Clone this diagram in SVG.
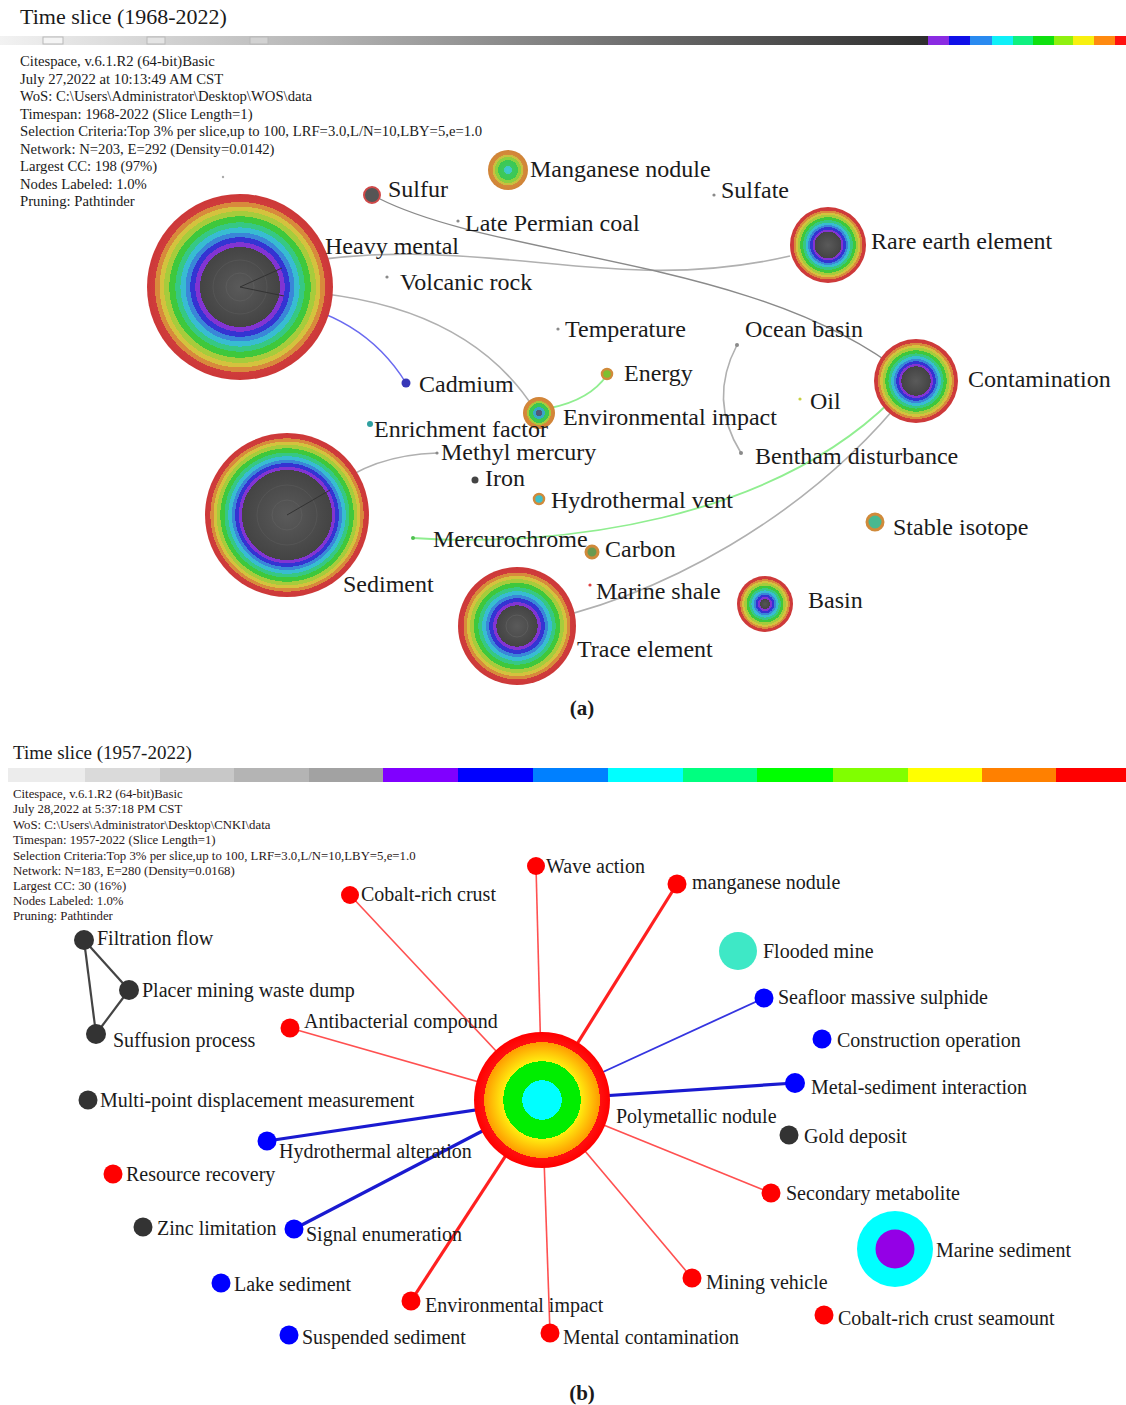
<svg xmlns="http://www.w3.org/2000/svg" width="1126" height="1405" viewBox="0 0 1126 1405">
<style>
text{font-family:"Liberation Serif","Times New Roman",serif;fill:#1a1a1a}
.lbl{font-size:24px}
.lb2{font-size:20px}
.info{font-size:14.7px}
.info2{font-size:12.8px;fill:#2a1818}
.ttl{font-size:22px}
.ttl2{font-size:19px}
.cap{font-size:21px;font-weight:bold;text-anchor:middle}
.eg{fill:none;stroke:#b0b0b0;stroke-width:1.6}
.egr{fill:none;stroke:#8a8a8a;stroke-width:1.4}
.elg{fill:none;stroke:#90ee90;stroke-width:1.8}
.ebl{fill:none;stroke:#6a6af0;stroke-width:1.4}
.rt{stroke:#ff5050;stroke-width:1.6}
.rT{stroke:#ff2020;stroke-width:3.2}
.bt{stroke:#3535e0;stroke-width:1.8}
.bT{stroke:#1a1ad0;stroke-width:3.2}
.kt{stroke:#444;stroke-width:2.2}
.red{fill:#ff0000}
.blu{fill:#0000ff}
.blk{fill:#333}
.dot{fill:#8a8a8a}
</style>
<defs>
<radialGradient id="rb1">
<stop offset="0" stop-color="#5a5a5a"/><stop offset="0.43" stop-color="#444"/>
<stop offset="0.43" stop-color="#8234d2"/><stop offset="0.48" stop-color="#8234d2"/>
<stop offset="0.48" stop-color="#3434d2"/><stop offset="0.535" stop-color="#3434d2"/>
<stop offset="0.535" stop-color="#3a86d8"/><stop offset="0.585" stop-color="#3a86d8"/>
<stop offset="0.585" stop-color="#38bcd2"/><stop offset="0.64" stop-color="#38bcd2"/>
<stop offset="0.64" stop-color="#36c884"/><stop offset="0.695" stop-color="#36c884"/>
<stop offset="0.695" stop-color="#3ec83c"/><stop offset="0.76" stop-color="#3ec83c"/>
<stop offset="0.76" stop-color="#a6cc3c"/><stop offset="0.816" stop-color="#a6cc3c"/>
<stop offset="0.816" stop-color="#d4c23e"/><stop offset="0.865" stop-color="#d4c23e"/>
<stop offset="0.865" stop-color="#d88a3c"/><stop offset="0.914" stop-color="#d88a3c"/>
<stop offset="0.914" stop-color="#d03c3c"/><stop offset="1" stop-color="#cc3838"/>
</radialGradient>
<radialGradient id="rb2">
<stop offset="0" stop-color="#5a5a5a"/><stop offset="0.55" stop-color="#444"/>
<stop offset="0.55" stop-color="#8234d2"/><stop offset="0.588" stop-color="#8234d2"/>
<stop offset="0.588" stop-color="#3434d2"/><stop offset="0.633" stop-color="#3434d2"/>
<stop offset="0.633" stop-color="#3a86d8"/><stop offset="0.671" stop-color="#3a86d8"/>
<stop offset="0.671" stop-color="#38bcd2"/><stop offset="0.716" stop-color="#38bcd2"/>
<stop offset="0.716" stop-color="#36c884"/><stop offset="0.761" stop-color="#36c884"/>
<stop offset="0.761" stop-color="#3ec83c"/><stop offset="0.813" stop-color="#3ec83c"/>
<stop offset="0.813" stop-color="#a6cc3c"/><stop offset="0.858" stop-color="#a6cc3c"/>
<stop offset="0.858" stop-color="#d4c23e"/><stop offset="0.896" stop-color="#d4c23e"/>
<stop offset="0.896" stop-color="#d88a3c"/><stop offset="0.934" stop-color="#d88a3c"/>
<stop offset="0.934" stop-color="#d03c3c"/><stop offset="1" stop-color="#cc3838"/>
</radialGradient>
<radialGradient id="rb3">
<stop offset="0" stop-color="#5a5a5a"/><stop offset="0.35" stop-color="#444"/>
<stop offset="0.35" stop-color="#8234d2"/><stop offset="0.405" stop-color="#8234d2"/>
<stop offset="0.405" stop-color="#3434d2"/><stop offset="0.47" stop-color="#3434d2"/>
<stop offset="0.47" stop-color="#3a86d8"/><stop offset="0.525" stop-color="#3a86d8"/>
<stop offset="0.525" stop-color="#38bcd2"/><stop offset="0.59" stop-color="#38bcd2"/>
<stop offset="0.59" stop-color="#36c884"/><stop offset="0.655" stop-color="#36c884"/>
<stop offset="0.655" stop-color="#3ec83c"/><stop offset="0.73" stop-color="#3ec83c"/>
<stop offset="0.73" stop-color="#a6cc3c"/><stop offset="0.795" stop-color="#a6cc3c"/>
<stop offset="0.795" stop-color="#d4c23e"/><stop offset="0.85" stop-color="#d4c23e"/>
<stop offset="0.85" stop-color="#d88a3c"/><stop offset="0.905" stop-color="#d88a3c"/>
<stop offset="0.905" stop-color="#d03c3c"/><stop offset="1" stop-color="#cc3838"/>
</radialGradient>
<radialGradient id="rb4">
<stop offset="0" stop-color="#555"/><stop offset="0.18" stop-color="#444"/>
<stop offset="0.18" stop-color="#8234d2"/><stop offset="0.25" stop-color="#8234d2"/>
<stop offset="0.25" stop-color="#3434d2"/><stop offset="0.332" stop-color="#3434d2"/>
<stop offset="0.332" stop-color="#3a86d8"/><stop offset="0.402" stop-color="#3a86d8"/>
<stop offset="0.402" stop-color="#38bcd2"/><stop offset="0.484" stop-color="#38bcd2"/>
<stop offset="0.484" stop-color="#36c884"/><stop offset="0.566" stop-color="#36c884"/>
<stop offset="0.566" stop-color="#3ec83c"/><stop offset="0.66" stop-color="#3ec83c"/>
<stop offset="0.66" stop-color="#a6cc3c"/><stop offset="0.742" stop-color="#a6cc3c"/>
<stop offset="0.742" stop-color="#d4c23e"/><stop offset="0.812" stop-color="#d4c23e"/>
<stop offset="0.812" stop-color="#d88a3c"/><stop offset="0.882" stop-color="#d88a3c"/>
<stop offset="0.882" stop-color="#d03c3c"/><stop offset="1" stop-color="#cc3838"/>
</radialGradient>
<radialGradient id="mn">
<stop offset="0" stop-color="#40c8d8"/><stop offset="0.2" stop-color="#40c8c0"/>
<stop offset="0.2" stop-color="#3cc860"/><stop offset="0.5" stop-color="#3cc850"/>
<stop offset="0.5" stop-color="#8cd040"/><stop offset="0.65" stop-color="#8cd040"/>
<stop offset="0.65" stop-color="#c8c040"/><stop offset="0.76" stop-color="#c8c040"/>
<stop offset="0.76" stop-color="#d48a3a"/><stop offset="1" stop-color="#d08438"/>
</radialGradient>
<radialGradient id="ei">
<stop offset="0" stop-color="#505a78"/><stop offset="0.22" stop-color="#505a78"/>
<stop offset="0.22" stop-color="#38a8c8"/><stop offset="0.36" stop-color="#38a8c8"/>
<stop offset="0.36" stop-color="#3cc850"/><stop offset="0.62" stop-color="#3cc850"/>
<stop offset="0.62" stop-color="#a8c83c"/><stop offset="0.74" stop-color="#a8c83c"/>
<stop offset="0.74" stop-color="#d8883a"/><stop offset="1" stop-color="#d08438"/>
</radialGradient>
<radialGradient id="hub">
<stop offset="0" stop-color="#00ffff"/><stop offset="0.29" stop-color="#00ffff"/>
<stop offset="0.29" stop-color="#00ee00"/><stop offset="0.57" stop-color="#00ee00"/>
<stop offset="0.57" stop-color="#ffee10"/><stop offset="0.85" stop-color="#ff9a00"/>
<stop offset="0.85" stop-color="#ff1010"/><stop offset="1" stop-color="#ff0000"/>
</radialGradient>
<linearGradient id="gbar" x1="0" x2="1" y1="0" y2="0">
<stop offset="0" stop-color="#f2f2f2"/><stop offset="0.35" stop-color="#b4b4b4"/><stop offset="0.7" stop-color="#6a6a6a"/><stop offset="1" stop-color="#2e2e2e"/>
</linearGradient>
</defs>

<rect width="1126" height="1405" fill="#fff"/>

<!-- ===== Panel (a) ===== -->
<g id="legend-a">
<text class="ttl" x="20" y="24">Time slice (1968-2022)</text>
<rect x="0" y="36" width="928" height="9" fill="url(#gbar)"/>
<g fill="none" stroke="#b8b8b8" stroke-width="1">
<rect x="43" y="37" width="20" height="7" fill="#f4f4f4"/>
<rect x="147" y="37" width="18" height="7" fill="#e4e4e4"/>
<rect x="250" y="37" width="18" height="7" fill="#d2d2d2"/>
</g>
<rect x="928" y="36" width="21" height="9" fill="#8a2be2"/>
<rect x="949" y="36" width="21" height="9" fill="#1010e8"/>
<rect x="970" y="36" width="22" height="9" fill="#2a8af0"/>
<rect x="992" y="36" width="21" height="9" fill="#10f0f8"/>
<rect x="1013" y="36" width="20" height="9" fill="#10f080"/>
<rect x="1033" y="36" width="21" height="9" fill="#10e010"/>
<rect x="1054" y="36" width="19" height="9" fill="#90f010"/>
<rect x="1073" y="36" width="21" height="9" fill="#f8f010"/>
<rect x="1094" y="36" width="21" height="9" fill="#ff8a10"/>
<rect x="1115" y="36" width="11" height="9" fill="#ff1010"/>
<text x="20" y="66" class="info">Citespace, v.6.1.R2 (64-bit)Basic</text>
<text x="20" y="84" class="info">July 27,2022 at 10:13:49 AM CST</text>
<text x="20" y="101" class="info">WoS: C:\Users\Administrator\Desktop\WOS\data</text>
<text x="20" y="119" class="info">Timespan: 1968-2022 (Slice Length=1)</text>
<text x="20" y="136" class="info">Selection Criteria:Top 3% per slice,up to 100, LRF=3.0,L/N=10,LBY=5,e=1.0</text>
<text x="20" y="154" class="info">Network: N=203, E=292 (Density=0.0142)</text>
<text x="20" y="171" class="info">Largest CC: 198 (97%)</text>
<text x="20" y="189" class="info">Nodes Labeled: 1.0%</text>
<text x="20" y="206" class="info">Pruning: Pathtinder</text>
</g>

<g id="edges-a">
<path class="eg" d="M265 268 C480 225 600 300 790 256"/>
<path class="egr" d="M378 198 C500 260 760 258 905 375"/>
<path class="eg" d="M262 290 Q460 292 535 410"/>
<path class="ebl" d="M270 300 Q362 312 406 383"/>
<path class="elg" d="M550 408 Q590 400 607 375"/>
<path class="eg" d="M737 345 Q708 400 741 453"/>
<path class="elg" d="M413 538 C560 548 770 520 892 400"/>
<path class="eg" d="M522 625 C660 600 810 515 908 392"/>
<path class="eg" d="M330 490 Q372 455 437 453"/>
</g>

<g id="n-heavy"><circle cx="240" cy="287" r="93" fill="url(#rb1)"/><circle cx="240" cy="287" r="27" fill="none" stroke="#555" stroke-width="1"/><circle cx="240" cy="287" r="14" fill="none" stroke="#5c5c5c" stroke-width="1"/><path d="M240 287 L282 268 M240 287 L284 296" stroke="#333" stroke-width="1" fill="none"/><text class="lbl" x="325" y="254">Heavy mental</text></g>
<g id="n-sediment"><circle cx="287" cy="515" r="82" fill="url(#rb2)"/><circle cx="287" cy="515" r="30" fill="none" stroke="#555" stroke-width="1"/><circle cx="287" cy="515" r="15" fill="none" stroke="#5c5c5c" stroke-width="1"/><path d="M287 515 L330 490" stroke="#333" stroke-width="1"/><text class="lbl" x="343" y="592">Sediment</text></g>
<g id="n-trace"><circle cx="517" cy="626" r="59" fill="url(#rb3)"/><circle cx="517" cy="626" r="11" fill="none" stroke="#5c5c5c" stroke-width="1"/><text class="lbl" x="577" y="657">Trace element</text></g>
<g id="n-rare"><circle cx="828" cy="245" r="38" fill="url(#rb3)"/><text class="lbl" x="871" y="249">Rare earth element</text></g>
<g id="n-contam"><circle cx="916" cy="381" r="42" fill="url(#rb3)"/><text class="lbl" x="968" y="387">Contamination</text></g>
<g id="n-basin"><circle cx="765" cy="604" r="28" fill="url(#rb4)"/><text class="lbl" x="808" y="608">Basin</text></g>
<g id="n-mn"><circle cx="508" cy="170" r="20" fill="url(#mn)"/><text class="lbl" x="530" y="177">Manganese nodule</text></g>
<g id="n-sulfur"><circle cx="372" cy="195" r="8" fill="#555" stroke="#d04848" stroke-width="2"/><text class="lbl" x="388" y="197">Sulfur</text></g>
<g id="n-sulfate"><circle cx="714" cy="195" r="1.6" class="dot"/><text class="lbl" x="721" y="198">Sulfate</text></g>
<g id="n-lpc"><circle cx="458" cy="221" r="1.6" class="dot"/><text class="lbl" x="465" y="231">Late Permian coal</text></g>
<g id="n-volc"><circle cx="387" cy="277" r="1.6" class="dot"/><text class="lbl" x="400" y="290">Volcanic rock</text></g>
<g id="n-temp"><circle cx="558" cy="329" r="1.6" class="dot"/><text class="lbl" x="565" y="337">Temperature</text></g>
<g id="n-ocean"><circle cx="737" cy="345" r="2" class="dot"/><text class="lbl" x="745" y="337">Ocean basin</text></g>
<g id="n-energy"><circle cx="607" cy="374" r="5" fill="#7cc030" stroke="#d08a3a" stroke-width="2.5"/><text class="lbl" x="624" y="381">Energy</text></g>
<g id="n-cadmium"><circle cx="406" cy="383" r="4.5" fill="#3838b8"/><text class="lbl" x="419" y="392">Cadmium</text></g>
<g id="n-oil"><circle cx="800" cy="399" r="1.6" fill="#c8d040"/><text class="lbl" x="810" y="409">Oil</text></g>
<g id="n-envimp"><circle cx="539" cy="413" r="16" fill="url(#ei)"/><text class="lbl" x="563" y="425">Environmental impact</text></g>
<g id="n-enrich"><circle cx="370" cy="424" r="3" fill="#30a0a0"/><text class="lbl" x="374" y="437">Enrichment factor</text></g>
<g id="n-methyl"><circle cx="437" cy="453" r="1.6" class="dot"/><text class="lbl" x="441" y="460">Methyl mercury</text></g>
<g id="n-bentham"><circle cx="741" cy="453" r="2" class="dot"/><text class="lbl" x="755" y="464">Bentham disturbance</text></g>
<g id="n-iron"><circle cx="475" cy="480" r="3.5" fill="#444"/><text class="lbl" x="485" y="486">Iron</text></g>
<g id="n-hydro"><circle cx="539" cy="499" r="5" fill="#40c0c8" stroke="#d08a3a" stroke-width="2.5"/><text class="lbl" x="551" y="508">Hydrothermal vent</text></g>
<g id="n-stable"><circle cx="875" cy="522" r="8" fill="#48b890" stroke="#d08a3a" stroke-width="3"/><text class="lbl" x="893" y="535">Stable isotope</text></g>
<g id="n-mercuro"><circle cx="413" cy="538" r="2" fill="#50c050"/><text class="lbl" x="433" y="547">Mercurochrome</text></g>
<g id="n-carbon"><circle cx="592" cy="552" r="6" fill="#6a9a50" stroke="#d08a3a" stroke-width="3"/><text class="lbl" x="605" y="557">Carbon</text></g>
<g id="n-mshale"><circle cx="590" cy="585" r="1.6" fill="#e04040"/><text class="lbl" x="596" y="599">Marine shale</text></g>
<g id="n-stray"><circle cx="223" cy="177" r="1.2" fill="#aaa"/></g>
<text class="cap" x="582" y="715">(a)</text>

<!-- ===== Panel (b) ===== -->
<g id="legend-b">
<text class="ttl2" x="13" y="759">Time slice (1957-2022)</text>
<rect x="8" y="768" width="77" height="14" fill="#ececec"/>
<rect x="85" y="768" width="75" height="14" fill="#dadada"/>
<rect x="160" y="768" width="74" height="14" fill="#c8c8c8"/>
<rect x="234" y="768" width="75" height="14" fill="#b4b4b4"/>
<rect x="309" y="768" width="74" height="14" fill="#a2a2a2"/>
<rect x="383" y="768" width="75" height="14" fill="#8000ff"/>
<rect x="458" y="768" width="75" height="14" fill="#0000ff"/>
<rect x="533" y="768" width="75" height="14" fill="#0080ff"/>
<rect x="608" y="768" width="75" height="14" fill="#00ffff"/>
<rect x="683" y="768" width="74" height="14" fill="#00ff80"/>
<rect x="757" y="768" width="76" height="14" fill="#00ff00"/>
<rect x="833" y="768" width="75" height="14" fill="#80ff00"/>
<rect x="908" y="768" width="74" height="14" fill="#ffff00"/>
<rect x="982" y="768" width="74" height="14" fill="#ff8000"/>
<rect x="1056" y="768" width="70" height="14" fill="#ff0000"/>
<text x="13" y="798" class="info2">Citespace, v.6.1.R2 (64-bit)Basic</text>
<text x="13" y="813" class="info2">July 28,2022 at 5:37:18 PM CST</text>
<text x="13" y="829" class="info2">WoS: C:\Users\Administrator\Desktop\CNKI\data</text>
<text x="13" y="844" class="info2">Timespan: 1957-2022 (Slice Length=1)</text>
<text x="13" y="860" class="info2">Selection Criteria:Top 3% per slice,up to 100, LRF=3.0,L/N=10,LBY=5,e=1.0</text>
<text x="13" y="875" class="info2">Network: N=183, E=280 (Density=0.0168)</text>
<text x="13" y="890" class="info2">Largest CC: 30 (16%)</text>
<text x="13" y="905" class="info2">Nodes Labeled: 1.0%</text>
<text x="13" y="920" class="info2">Pruning: Pathtinder</text>
</g>

<g id="edges-b">
<line class="rt" x1="542" y1="1100" x2="536" y2="866"/>
<line class="rt" x1="542" y1="1100" x2="350" y2="895"/>
<line class="rT" x1="542" y1="1100" x2="677" y2="884"/>
<line class="bt" x1="542" y1="1100" x2="764" y2="998"/>
<line class="bT" x1="542" y1="1100" x2="795" y2="1083"/>
<line class="rt" x1="542" y1="1100" x2="771" y2="1193"/>
<line class="rt" x1="542" y1="1100" x2="692" y2="1278"/>
<line class="rt" x1="542" y1="1100" x2="550" y2="1333"/>
<line class="rT" x1="542" y1="1100" x2="411" y2="1301"/>
<line class="bT" x1="542" y1="1100" x2="294" y2="1229"/>
<line class="bT" x1="542" y1="1100" x2="267" y2="1141"/>
<line class="rt" x1="542" y1="1100" x2="290" y2="1028"/>
<line class="kt" x1="84" y1="940" x2="129" y2="990"/>
<line class="kt" x1="84" y1="940" x2="96" y2="1034"/>
<line class="kt" x1="129" y1="990" x2="96" y2="1034"/>
</g>

<g id="b-poly"><circle cx="542" cy="1100" r="68" fill="url(#hub)"/><text class="lb2" x="616" y="1123">Polymetallic nodule</text></g>
<g id="b-wave"><circle cx="536" cy="866" r="9" class="red"/><text class="lb2" x="546" y="873">Wave action</text></g>
<g id="b-ccrust"><circle cx="350" cy="895" r="9" class="red"/><text class="lb2" x="361" y="901">Cobalt-rich crust</text></g>
<g id="b-mn"><circle cx="677" cy="884" r="9.5" class="red"/><text class="lb2" x="692" y="889">manganese nodule</text></g>
<g id="b-flood"><circle cx="738" cy="951" r="19" fill="#3ee8c6"/><text class="lb2" x="763" y="958">Flooded mine</text></g>
<g id="b-seafloor"><circle cx="764" cy="998" r="9.5" class="blu"/><text class="lb2" x="778" y="1004">Seafloor massive sulphide</text></g>
<g id="b-constr"><circle cx="822" cy="1039" r="9.5" class="blu"/><text class="lb2" x="837" y="1047">Construction operation</text></g>
<g id="b-metal"><circle cx="795" cy="1083" r="10" class="blu"/><text class="lb2" x="811" y="1094">Metal-sediment interaction</text></g>
<g id="b-gold"><circle cx="789" cy="1135" r="9.5" class="blk"/><text class="lb2" x="804" y="1143">Gold deposit</text></g>
<g id="b-second"><circle cx="771" cy="1193" r="9.5" class="red"/><text class="lb2" x="786" y="1200">Secondary metabolite</text></g>
<g id="b-marine"><circle cx="895" cy="1249" r="38" fill="#00ffff"/><circle cx="895" cy="1249" r="19.5" fill="#9400e6"/><text class="lb2" x="936" y="1257">Marine sediment</text></g>
<g id="b-mining"><circle cx="692" cy="1278" r="9.5" class="red"/><text class="lb2" x="706" y="1289">Mining vehicle</text></g>
<g id="b-seamount"><circle cx="824" cy="1315" r="9.5" class="red"/><text class="lb2" x="838" y="1325">Cobalt-rich crust seamount</text></g>
<g id="b-mental"><circle cx="550" cy="1333" r="9.5" class="red"/><text class="lb2" x="563" y="1344">Mental contamination</text></g>
<g id="b-envimp"><circle cx="411" cy="1301" r="9.5" class="red"/><text class="lb2" x="425" y="1312">Environmental impact</text></g>
<g id="b-susp"><circle cx="289" cy="1335" r="9.5" class="blu"/><text class="lb2" x="302" y="1344">Suspended sediment</text></g>
<g id="b-lake"><circle cx="221" cy="1283" r="9.5" class="blu"/><text class="lb2" x="234" y="1291">Lake sediment</text></g>
<g id="b-signal"><circle cx="294" cy="1229" r="9.5" class="blu"/><text class="lb2" x="306" y="1241">Signal enumeration</text></g>
<g id="b-zinc"><circle cx="143" cy="1227" r="9.5" class="blk"/><text class="lb2" x="157" y="1235">Zinc limitation</text></g>
<g id="b-resource"><circle cx="113" cy="1174" r="9.5" class="red"/><text class="lb2" x="126" y="1181">Resource recovery</text></g>
<g id="b-hydro"><circle cx="267" cy="1141" r="9.5" class="blu"/><text class="lb2" x="279" y="1158">Hydrothermal alteration</text></g>
<g id="b-multi"><circle cx="88" cy="1100" r="9.5" class="blk"/><text class="lb2" x="100" y="1107">Multi-point displacement measurement</text></g>
<g id="b-antibac"><circle cx="290" cy="1028" r="9.5" class="red"/><text class="lb2" x="304" y="1028">Antibacterial compound</text></g>
<g id="b-filt"><circle cx="84" cy="940" r="10" class="blk"/><text class="lb2" x="97" y="945">Filtration flow</text></g>
<g id="b-placer"><circle cx="129" cy="990" r="10" class="blk"/><text class="lb2" x="142" y="997">Placer mining waste dump</text></g>
<g id="b-suff"><circle cx="96" cy="1034" r="10" class="blk"/><text class="lb2" x="113" y="1047">Suffusion process</text></g>
<text class="cap" x="582" y="1400">(b)</text>
</svg>
